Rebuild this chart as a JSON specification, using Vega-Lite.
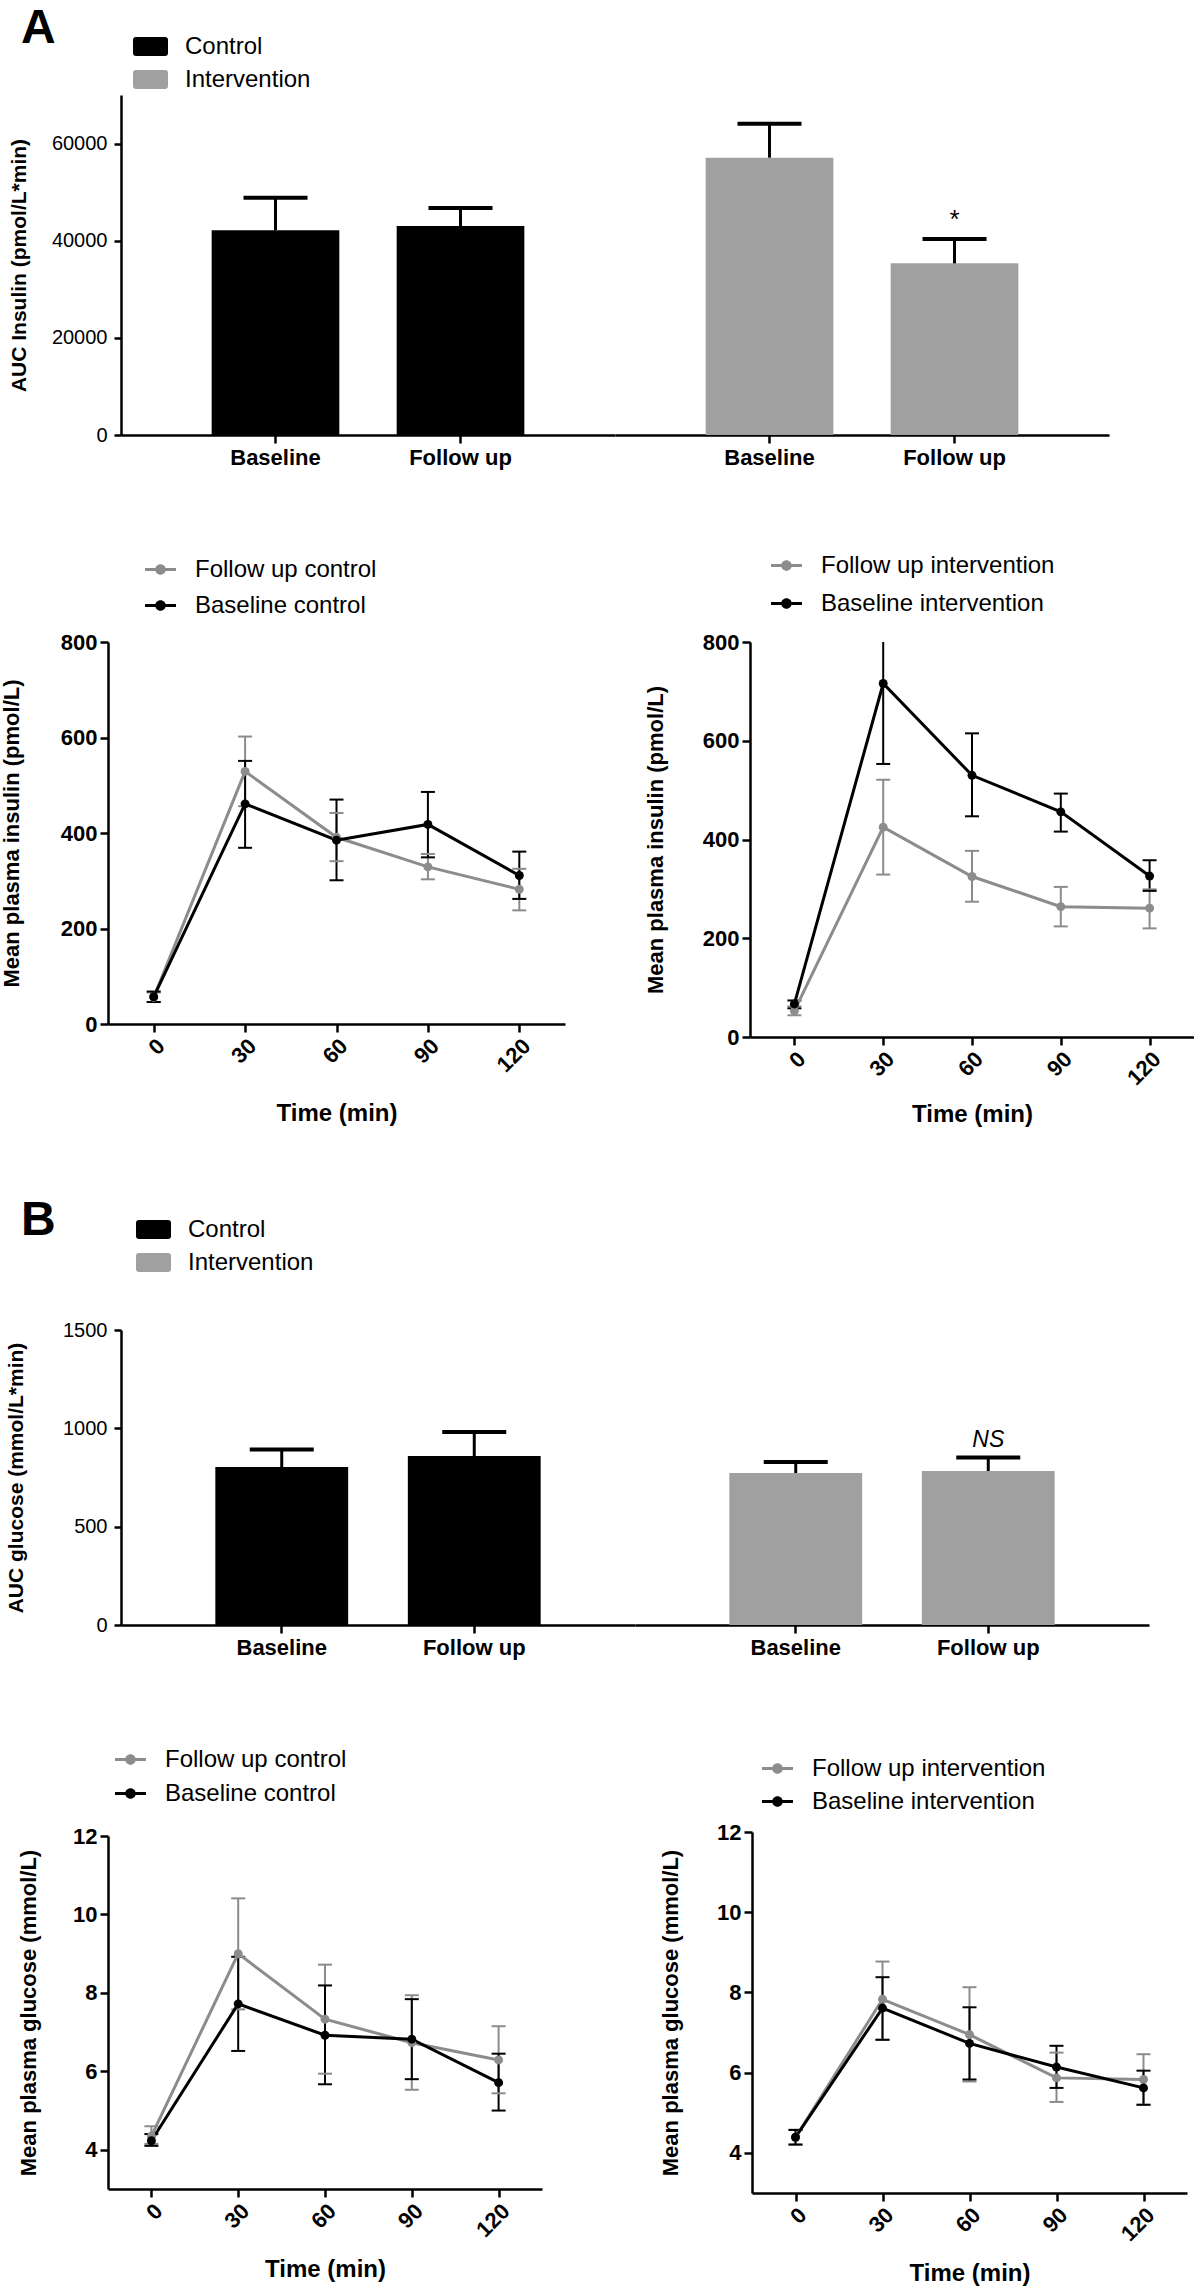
{
  "$schema": "https://vega.github.io/schema/vega-lite/v6.json",
  "padding": {"left": 0, "top": 5, "right": 0, "bottom": 0},
  "background": "white",
  "config": {
    "font": "Liberation Sans",
    "view": {"stroke": null},
    "axis": {"domainColor": "#000000", "domainWidth": 2.5, "tickColor": "#000000", "tickWidth": 2.5, "tickSize": 8, "labelColor": "#000000", "titleColor": "#000000", "grid": false, "labelFont": "Liberation Sans", "titleFont": "Liberation Sans", "labelFontWeight": "bold", "labelFontSize": 22, "titleFontWeight": "bold", "titleFontSize": 22, "labelPadding": 3, "labelOverlap": false, "labelFlush": false},
    "legend": {"labelFont": "Liberation Sans", "labelFontSize": 24, "labelColor": "#000000", "labelLimit": 500, "padding": 0, "symbolStrokeWidth": 0, "symbolOpacity": 1},
    "title": {"font": "Liberation Sans", "fontWeight": "bold", "fontSize": 48, "color": "#000000"}
  },
  "datasets": {
    "aucA": [
      {"group": "Control", "time": "Baseline", "auc": 42140, "hi": 48860, "sig": ""},
      {"group": "Control", "time": "Follow up", "auc": 43030, "hi": 46740, "sig": ""},
      {"group": "Intervention", "time": "Baseline", "auc": 57100, "hi": 64100, "sig": ""},
      {"group": "Intervention", "time": "Follow up", "auc": 35340, "hi": 40350, "sig": "*"}
    ],
    "aucB": [
      {"group": "Control", "time": "Baseline", "auc": 803, "hi": 892, "sig": ""},
      {"group": "Control", "time": "Follow up", "auc": 859, "hi": 981, "sig": ""},
      {"group": "Intervention", "time": "Baseline", "auc": 773, "hi": 829, "sig": ""},
      {"group": "Intervention", "time": "Follow up", "auc": 783, "hi": 852, "sig": "NS"}
    ],
    "insCtrl": [
      {"series": "Follow up control", "t": 0, "mean": 56, "lo": 46, "hi": 66},
      {"series": "Follow up control", "t": 30, "mean": 529, "lo": 456, "hi": 602},
      {"series": "Follow up control", "t": 60, "mean": 391, "lo": 341, "hi": 442},
      {"series": "Follow up control", "t": 90, "mean": 329, "lo": 303, "hi": 356},
      {"series": "Follow up control", "t": 120, "mean": 282, "lo": 238, "hi": 325},
      {"series": "Baseline control", "t": 0, "mean": 57, "lo": 46, "hi": 68},
      {"series": "Baseline control", "t": 30, "mean": 461, "lo": 369, "hi": 551},
      {"series": "Baseline control", "t": 60, "mean": 385, "lo": 301, "hi": 470},
      {"series": "Baseline control", "t": 90, "mean": 418, "lo": 349, "hi": 486},
      {"series": "Baseline control", "t": 120, "mean": 311, "lo": 262, "hi": 361}
    ],
    "insInt": [
      {"series": "Follow up intervention", "t": 0, "mean": 53, "lo": 44, "hi": 62},
      {"series": "Follow up intervention", "t": 30, "mean": 425, "lo": 329, "hi": 521},
      {"series": "Follow up intervention", "t": 60, "mean": 325, "lo": 274, "hi": 377},
      {"series": "Follow up intervention", "t": 90, "mean": 264, "lo": 224, "hi": 304},
      {"series": "Follow up intervention", "t": 120, "mean": 261, "lo": 220, "hi": 299},
      {"series": "Baseline intervention", "t": 0, "mean": 67, "lo": 58, "hi": 74},
      {"series": "Baseline intervention", "t": 30, "mean": 716, "lo": 553, "hi": 879},
      {"series": "Baseline intervention", "t": 60, "mean": 530, "lo": 447, "hi": 615},
      {"series": "Baseline intervention", "t": 90, "mean": 456, "lo": 416, "hi": 493},
      {"series": "Baseline intervention", "t": 120, "mean": 326, "lo": 296, "hi": 358}
    ],
    "gluCtrl": [
      {"series": "Follow up control", "t": 0, "mean": 4.35, "lo": 4.15, "hi": 4.6},
      {"series": "Follow up control", "t": 30, "mean": 9.0, "lo": 7.58, "hi": 10.41},
      {"series": "Follow up control", "t": 60, "mean": 7.33, "lo": 5.94, "hi": 8.72},
      {"series": "Follow up control", "t": 90, "mean": 6.73, "lo": 5.53, "hi": 7.94},
      {"series": "Follow up control", "t": 120, "mean": 6.29, "lo": 5.44, "hi": 7.15},
      {"series": "Baseline control", "t": 0, "mean": 4.23, "lo": 4.1, "hi": 4.4},
      {"series": "Baseline control", "t": 30, "mean": 7.72, "lo": 6.52, "hi": 8.92},
      {"series": "Baseline control", "t": 60, "mean": 6.92, "lo": 5.67, "hi": 8.19},
      {"series": "Baseline control", "t": 90, "mean": 6.82, "lo": 5.8, "hi": 7.84},
      {"series": "Baseline control", "t": 120, "mean": 5.71, "lo": 5.0, "hi": 6.45}
    ],
    "gluInt": [
      {"series": "Follow up intervention", "t": 0, "mean": 4.39, "lo": 4.2, "hi": 4.58},
      {"series": "Follow up intervention", "t": 30, "mean": 7.83, "lo": 6.82, "hi": 8.77},
      {"series": "Follow up intervention", "t": 60, "mean": 6.95, "lo": 5.78, "hi": 8.13},
      {"series": "Follow up intervention", "t": 90, "mean": 5.87, "lo": 5.27, "hi": 6.5},
      {"series": "Follow up intervention", "t": 120, "mean": 5.83, "lo": 5.2, "hi": 6.46},
      {"series": "Baseline intervention", "t": 0, "mean": 4.39, "lo": 4.21, "hi": 4.57},
      {"series": "Baseline intervention", "t": 30, "mean": 7.61, "lo": 6.82, "hi": 8.38},
      {"series": "Baseline intervention", "t": 60, "mean": 6.73, "lo": 5.83, "hi": 7.63},
      {"series": "Baseline intervention", "t": 90, "mean": 6.14, "lo": 5.62, "hi": 6.67},
      {"series": "Baseline intervention", "t": 120, "mean": 5.62, "lo": 5.2, "hi": 6.05}
    ]
  },
  "spacing": 70,
  "resolve": {"scale": {"color": "independent"}, "legend": {"color": "independent"}},
  "vconcat": [
    {
      "spacing": 82,
      "resolve": {"scale": {"color": "independent"}, "legend": {"color": "independent"}},
      "vconcat": [
        {
          "bounds": "flush",
          "spacing": 0,
          "resolve": {"scale": {"color": "independent"}, "legend": {"color": "independent"}},
          "hconcat": [
            {"width": 121, "height": 1, "data": {"values": [{}]}, "mark": {"type": "rect", "color": "#ffffff"}, "view": {"fill": "#ffffff", "stroke": null}},
            {
              "width": 494, "height": 340,
              "title": {"text": "A", "anchor": "start", "frame": "group", "offset": 0, "dx": -100, "dy": 62, "baseline": "alphabetic"},
              "data": {"name": "aucA"},
              "transform": [{"filter": "datum.group === 'Control'"}],
              "encoding": {"x": {"field": "time", "type": "nominal", "sort": ["Baseline", "Follow up"], "scale": {"paddingInner": 0.31, "paddingOuter": 0.49}, "axis": {"title": null, "labelAngle": 0, "labelPadding": 4, "labelFontSize": 22}}},
              "layer": [
                {"mark": {"type": "bar"}, "encoding": {
                  "y": {"field": "auc", "type": "quantitative", "scale": {"domain": [0, 70000], "nice": false}, "title": "AUC Insulin (pmol/L*min)", "axis": {"values": [0, 20000, 40000, 60000], "format": "d", "titleFontSize": 21, "labelFontSize": 20, "labelFontWeight": "normal", "tickSize": 7, "labelPadding": 7, "titlePadding": 22}},
                  "color": {"field": "group", "type": "nominal", "scale": {"domain": ["Control", "Intervention"], "range": ["#000000", "#a0a0a0"]}, "legend": {"orient": "none", "legendX": 12, "legendY": -66, "title": null, "symbolType": "M-0.83,-0.54L0.83,-0.54Q1,-0.54,1,-0.37L1,0.37Q1,0.54,0.83,0.54L-0.83,0.54Q-1,0.54,-1,0.37L-1,-0.37Q-1,-0.54,-0.83,-0.54Z", "symbolSize": 1225, "labelOffset": 17, "rowPadding": 3}}
                }},
                {"mark": {"type": "rule", "strokeWidth": 3, "color": "#000000"}, "encoding": {
                  "y": {"field": "auc", "type": "quantitative", "scale": {"domain": [0, 70000], "nice": false}, "title": "AUC Insulin (pmol/L*min)"},
                  "y2": {"field": "hi"}
                }},
                {"mark": {"type": "tick", "orient": "horizontal", "size": 64, "thickness": 4, "color": "#000000", "opacity": 1}, "encoding": {
                  "y": {"field": "hi", "type": "quantitative", "scale": {"domain": [0, 70000], "nice": false}, "title": "AUC Insulin (pmol/L*min)"}
                }}
              ]
            },
            {
              "width": 494, "height": 340,
              "data": {"name": "aucA"},
              "transform": [{"filter": "datum.group === 'Intervention'"}],
              "encoding": {"x": {"field": "time", "type": "nominal", "sort": ["Baseline", "Follow up"], "scale": {"paddingInner": 0.31, "paddingOuter": 0.49}, "axis": {"title": null, "labelAngle": 0, "labelPadding": 4, "labelFontSize": 22}}},
              "layer": [
                {"mark": {"type": "bar"}, "encoding": {
                  "y": {"field": "auc", "type": "quantitative", "scale": {"domain": [0, 70000], "nice": false}, "axis": null},
                  "color": {"field": "group", "type": "nominal", "scale": {"domain": ["Control", "Intervention"], "range": ["#000000", "#a0a0a0"]}, "legend": null}
                }},
                {"mark": {"type": "rule", "strokeWidth": 3, "color": "#000000"}, "encoding": {
                  "y": {"field": "auc", "type": "quantitative", "scale": {"domain": [0, 70000], "nice": false}, "axis": null},
                  "y2": {"field": "hi"}
                }},
                {"mark": {"type": "tick", "orient": "horizontal", "size": 64, "thickness": 4, "color": "#000000", "opacity": 1}, "encoding": {
                  "y": {"field": "hi", "type": "quantitative", "scale": {"domain": [0, 70000], "nice": false}, "axis": null}
                }},
                {"mark": {"type": "text", "baseline": "alphabetic", "dy": -11, "fontSize": 26, "color": "#000000"}, "encoding": {
                  "y": {"field": "hi", "type": "quantitative", "scale": {"domain": [0, 70000], "nice": false}, "axis": null},
                  "text": {"field": "sig"}
                }}
              ]
            }
          ]
        },
        {
          "bounds": "flush",
          "spacing": 0,
          "resolve": {"scale": {"color": "independent"}, "legend": {"color": "independent"}},
          "hconcat": [
            {"width": 108, "height": 1, "data": {"values": [{}]}, "mark": {"type": "rect", "color": "#ffffff"}, "view": {"fill": "#ffffff", "stroke": null}},
            {
              "width": 457, "height": 382,
              "data": {"name": "insCtrl"},
              "encoding": {"x": {"field": "t", "type": "quantitative", "scale": {"domain": [-15, 135], "nice": false, "zero": false}, "axis": {"values": [0, 30, 60, 90, 120], "labelAngle": -45, "title": "Time (min)", "titleFontSize": 24, "titlePadding": 26}}},
              "layer": [
                {"mark": {"type": "rule", "strokeWidth": 2, "clip": true}, "encoding": {
                  "y": {"field": "lo", "type": "quantitative", "scale": {"domain": [0, 800], "nice": false}, "title": "Mean plasma insulin (pmol/L)", "axis": {"values": [0, 200, 400, 600, 800], "titlePadding": 37}},
                  "y2": {"field": "hi"},
                  "color": {"field": "series", "type": "nominal", "scale": {"domain": ["Follow up control", "Baseline control"], "range": ["#8c8c8c", "#000000"]}, "legend": {"orient": "none", "legendX": 37, "legendY": -88, "title": null, "symbolType": "M-1,-0.1L1,-0.1L1,0.1L-1,0.1Z M0.34,0A0.34,0.34,0,1,1,-0.34,0A0.34,0.34,0,1,1,0.34,0Z", "symbolSize": 961, "labelOffset": 19, "rowPadding": 8}}
                }},
                {"mark": {"type": "tick", "orient": "horizontal", "size": 14, "thickness": 2, "clip": true, "opacity": 1}, "encoding": {
                  "y": {"field": "hi", "type": "quantitative", "scale": {"domain": [0, 800], "nice": false}, "title": "Mean plasma insulin (pmol/L)"},
                  "color": {"field": "series", "type": "nominal", "scale": {"domain": ["Follow up control", "Baseline control"], "range": ["#8c8c8c", "#000000"]}, "legend": {"orient": "none", "legendX": 37, "legendY": -88, "title": null, "symbolType": "M-1,-0.1L1,-0.1L1,0.1L-1,0.1Z M0.34,0A0.34,0.34,0,1,1,-0.34,0A0.34,0.34,0,1,1,0.34,0Z", "symbolSize": 961, "labelOffset": 19, "rowPadding": 8}}
                }},
                {"mark": {"type": "tick", "orient": "horizontal", "size": 14, "thickness": 2, "clip": true, "opacity": 1}, "encoding": {
                  "y": {"field": "lo", "type": "quantitative", "scale": {"domain": [0, 800], "nice": false}, "title": "Mean plasma insulin (pmol/L)"},
                  "color": {"field": "series", "type": "nominal", "scale": {"domain": ["Follow up control", "Baseline control"], "range": ["#8c8c8c", "#000000"]}, "legend": {"orient": "none", "legendX": 37, "legendY": -88, "title": null, "symbolType": "M-1,-0.1L1,-0.1L1,0.1L-1,0.1Z M0.34,0A0.34,0.34,0,1,1,-0.34,0A0.34,0.34,0,1,1,0.34,0Z", "symbolSize": 961, "labelOffset": 19, "rowPadding": 8}}
                }},
                {"mark": {"type": "line", "strokeWidth": 3}, "encoding": {
                  "y": {"field": "mean", "type": "quantitative", "scale": {"domain": [0, 800], "nice": false}, "title": "Mean plasma insulin (pmol/L)"},
                  "color": {"field": "series", "type": "nominal", "scale": {"domain": ["Follow up control", "Baseline control"], "range": ["#8c8c8c", "#000000"]}, "legend": {"orient": "none", "legendX": 37, "legendY": -88, "title": null, "symbolType": "M-1,-0.1L1,-0.1L1,0.1L-1,0.1Z M0.34,0A0.34,0.34,0,1,1,-0.34,0A0.34,0.34,0,1,1,0.34,0Z", "symbolSize": 961, "labelOffset": 19, "rowPadding": 8}}
                }},
                {"mark": {"type": "point", "filled": true, "size": 80, "opacity": 1}, "encoding": {
                  "y": {"field": "mean", "type": "quantitative", "scale": {"domain": [0, 800], "nice": false}, "title": "Mean plasma insulin (pmol/L)"},
                  "color": {"field": "series", "type": "nominal", "scale": {"domain": ["Follow up control", "Baseline control"], "range": ["#8c8c8c", "#000000"]}, "legend": {"orient": "none", "legendX": 37, "legendY": -88, "title": null, "symbolType": "M-1,-0.1L1,-0.1L1,0.1L-1,0.1Z M0.34,0A0.34,0.34,0,1,1,-0.34,0A0.34,0.34,0,1,1,0.34,0Z", "symbolSize": 961, "labelOffset": 19, "rowPadding": 8}}
                }}
              ]
            },
            {"width": 185, "height": 1, "data": {"values": [{}]}, "mark": {"type": "rect", "color": "#ffffff"}, "view": {"fill": "#ffffff", "stroke": null}},
            {
              "width": 444, "height": 395,
              "data": {"name": "insInt"},
              "encoding": {"x": {"field": "t", "type": "quantitative", "scale": {"domain": [-15, 135], "nice": false, "zero": false}, "axis": {"values": [0, 30, 60, 90, 120], "labelAngle": -45, "title": "Time (min)", "titleFontSize": 24, "titlePadding": 14}}},
              "layer": [
                {"mark": {"type": "rule", "strokeWidth": 2, "clip": true}, "encoding": {
                  "y": {"field": "lo", "type": "quantitative", "scale": {"domain": [0, 800], "nice": false}, "title": "Mean plasma insulin (pmol/L)", "axis": {"values": [0, 200, 400, 600, 800], "titlePadding": 35}},
                  "y2": {"field": "hi"},
                  "color": {"field": "series", "type": "nominal", "scale": {"domain": ["Follow up intervention", "Baseline intervention"], "range": ["#8c8c8c", "#000000"]}, "legend": {"orient": "none", "legendX": 21, "legendY": -92, "title": null, "symbolType": "M-1,-0.1L1,-0.1L1,0.1L-1,0.1Z M0.34,0A0.34,0.34,0,1,1,-0.34,0A0.34,0.34,0,1,1,0.34,0Z", "symbolSize": 961, "labelOffset": 19, "rowPadding": 10}}
                }},
                {"mark": {"type": "tick", "orient": "horizontal", "size": 14, "thickness": 2, "clip": true, "opacity": 1}, "encoding": {
                  "y": {"field": "hi", "type": "quantitative", "scale": {"domain": [0, 800], "nice": false}, "title": "Mean plasma insulin (pmol/L)"},
                  "color": {"field": "series", "type": "nominal", "scale": {"domain": ["Follow up intervention", "Baseline intervention"], "range": ["#8c8c8c", "#000000"]}, "legend": {"orient": "none", "legendX": 21, "legendY": -92, "title": null, "symbolType": "M-1,-0.1L1,-0.1L1,0.1L-1,0.1Z M0.34,0A0.34,0.34,0,1,1,-0.34,0A0.34,0.34,0,1,1,0.34,0Z", "symbolSize": 961, "labelOffset": 19, "rowPadding": 10}}
                }},
                {"mark": {"type": "tick", "orient": "horizontal", "size": 14, "thickness": 2, "clip": true, "opacity": 1}, "encoding": {
                  "y": {"field": "lo", "type": "quantitative", "scale": {"domain": [0, 800], "nice": false}, "title": "Mean plasma insulin (pmol/L)"},
                  "color": {"field": "series", "type": "nominal", "scale": {"domain": ["Follow up intervention", "Baseline intervention"], "range": ["#8c8c8c", "#000000"]}, "legend": {"orient": "none", "legendX": 21, "legendY": -92, "title": null, "symbolType": "M-1,-0.1L1,-0.1L1,0.1L-1,0.1Z M0.34,0A0.34,0.34,0,1,1,-0.34,0A0.34,0.34,0,1,1,0.34,0Z", "symbolSize": 961, "labelOffset": 19, "rowPadding": 10}}
                }},
                {"mark": {"type": "line", "strokeWidth": 3}, "encoding": {
                  "y": {"field": "mean", "type": "quantitative", "scale": {"domain": [0, 800], "nice": false}, "title": "Mean plasma insulin (pmol/L)"},
                  "color": {"field": "series", "type": "nominal", "scale": {"domain": ["Follow up intervention", "Baseline intervention"], "range": ["#8c8c8c", "#000000"]}, "legend": {"orient": "none", "legendX": 21, "legendY": -92, "title": null, "symbolType": "M-1,-0.1L1,-0.1L1,0.1L-1,0.1Z M0.34,0A0.34,0.34,0,1,1,-0.34,0A0.34,0.34,0,1,1,0.34,0Z", "symbolSize": 961, "labelOffset": 19, "rowPadding": 10}}
                }},
                {"mark": {"type": "point", "filled": true, "size": 80, "opacity": 1}, "encoding": {
                  "y": {"field": "mean", "type": "quantitative", "scale": {"domain": [0, 800], "nice": false}, "title": "Mean plasma insulin (pmol/L)"},
                  "color": {"field": "series", "type": "nominal", "scale": {"domain": ["Follow up intervention", "Baseline intervention"], "range": ["#8c8c8c", "#000000"]}, "legend": {"orient": "none", "legendX": 21, "legendY": -92, "title": null, "symbolType": "M-1,-0.1L1,-0.1L1,0.1L-1,0.1Z M0.34,0A0.34,0.34,0,1,1,-0.34,0A0.34,0.34,0,1,1,0.34,0Z", "symbolSize": 961, "labelOffset": 19, "rowPadding": 10}}
                }}
              ]
            }
          ]
        }
      ]
    },
    {
      "spacing": 86,
      "resolve": {"scale": {"color": "independent"}, "legend": {"color": "independent"}},
      "vconcat": [
        {
          "bounds": "flush",
          "spacing": 0,
          "resolve": {"scale": {"color": "independent"}, "legend": {"color": "independent"}},
          "hconcat": [
            {"width": 121, "height": 1, "data": {"values": [{}]}, "mark": {"type": "rect", "color": "#ffffff"}, "view": {"fill": "#ffffff", "stroke": null}},
            {
              "width": 514, "height": 295,
              "title": {"text": "B", "anchor": "start", "frame": "group", "offset": 0, "dx": -100, "dy": 71, "baseline": "alphabetic"},
              "data": {"name": "aucB"},
              "transform": [{"filter": "datum.group === 'Control'"}],
              "encoding": {"x": {"field": "time", "type": "nominal", "sort": ["Baseline", "Follow up"], "scale": {"paddingInner": 0.31, "paddingOuter": 0.49}, "axis": {"title": null, "labelAngle": 0, "labelPadding": 4, "labelFontSize": 22}}},
              "layer": [
                {"mark": {"type": "bar"}, "encoding": {
                  "y": {"field": "auc", "type": "quantitative", "scale": {"domain": [0, 1500], "nice": false}, "title": "AUC glucose (mmol/L*min)", "axis": {"values": [0, 500, 1000, 1500], "format": "d", "titleFontSize": 21, "labelFontSize": 20, "labelFontWeight": "normal", "tickSize": 7, "labelPadding": 7, "titlePadding": 36}},
                  "color": {"field": "group", "type": "nominal", "scale": {"domain": ["Control", "Intervention"], "range": ["#000000", "#a0a0a0"]}, "legend": {"orient": "none", "legendX": 15, "legendY": -118, "title": null, "symbolType": "M-0.83,-0.54L0.83,-0.54Q1,-0.54,1,-0.37L1,0.37Q1,0.54,0.83,0.54L-0.83,0.54Q-1,0.54,-1,0.37L-1,-0.37Q-1,-0.54,-0.83,-0.54Z", "symbolSize": 1225, "labelOffset": 17, "rowPadding": 3}}
                }},
                {"mark": {"type": "rule", "strokeWidth": 3, "color": "#000000"}, "encoding": {
                  "y": {"field": "auc", "type": "quantitative", "scale": {"domain": [0, 1500], "nice": false}, "title": "AUC glucose (mmol/L*min)"},
                  "y2": {"field": "hi"}
                }},
                {"mark": {"type": "tick", "orient": "horizontal", "size": 64, "thickness": 4, "color": "#000000", "opacity": 1}, "encoding": {
                  "y": {"field": "hi", "type": "quantitative", "scale": {"domain": [0, 1500], "nice": false}, "title": "AUC glucose (mmol/L*min)"}
                }}
              ]
            },
            {
              "width": 514, "height": 295,
              "data": {"name": "aucB"},
              "transform": [{"filter": "datum.group === 'Intervention'"}],
              "encoding": {"x": {"field": "time", "type": "nominal", "sort": ["Baseline", "Follow up"], "scale": {"paddingInner": 0.31, "paddingOuter": 0.49}, "axis": {"title": null, "labelAngle": 0, "labelPadding": 4, "labelFontSize": 22}}},
              "layer": [
                {"mark": {"type": "bar"}, "encoding": {
                  "y": {"field": "auc", "type": "quantitative", "scale": {"domain": [0, 1500], "nice": false}, "axis": null},
                  "color": {"field": "group", "type": "nominal", "scale": {"domain": ["Control", "Intervention"], "range": ["#000000", "#a0a0a0"]}, "legend": null}
                }},
                {"mark": {"type": "rule", "strokeWidth": 3, "color": "#000000"}, "encoding": {
                  "y": {"field": "auc", "type": "quantitative", "scale": {"domain": [0, 1500], "nice": false}, "axis": null},
                  "y2": {"field": "hi"}
                }},
                {"mark": {"type": "tick", "orient": "horizontal", "size": 64, "thickness": 4, "color": "#000000", "opacity": 1}, "encoding": {
                  "y": {"field": "hi", "type": "quantitative", "scale": {"domain": [0, 1500], "nice": false}, "axis": null}
                }},
                {"mark": {"type": "text", "baseline": "alphabetic", "dy": -10, "fontSize": 23, "fontStyle": "italic", "color": "#000000"}, "encoding": {
                  "y": {"field": "hi", "type": "quantitative", "scale": {"domain": [0, 1500], "nice": false}, "axis": null},
                  "text": {"field": "sig"}
                }}
              ]
            }
          ]
        },
        {
          "bounds": "flush",
          "spacing": 0,
          "center": true,
          "resolve": {"scale": {"color": "independent"}, "legend": {"color": "independent"}},
          "hconcat": [
            {"width": 108, "height": 1, "data": {"values": [{}]}, "mark": {"type": "rect", "color": "#ffffff"}, "view": {"fill": "#ffffff", "stroke": null}},
            {
              "width": 434, "height": 353,
              "data": {"name": "gluCtrl"},
              "encoding": {"x": {"field": "t", "type": "quantitative", "scale": {"domain": [-15, 135], "nice": false, "zero": false}, "axis": {"values": [0, 30, 60, 90, 120], "labelAngle": -45, "title": "Time (min)", "titleFontSize": 24, "titlePadding": 17}}},
              "layer": [
                {"mark": {"type": "rule", "strokeWidth": 2, "clip": true}, "encoding": {
                  "y": {"field": "lo", "type": "quantitative", "scale": {"domain": [3, 12], "nice": false, "zero": false}, "title": "Mean plasma glucose (mmol/L)", "axis": {"values": [4, 6, 8, 10, 12], "titlePadding": 32}},
                  "y2": {"field": "hi"},
                  "color": {"field": "series", "type": "nominal", "scale": {"domain": ["Follow up control", "Baseline control"], "range": ["#8c8c8c", "#000000"]}, "legend": {"orient": "none", "legendX": 7, "legendY": -92, "title": null, "symbolType": "M-1,-0.1L1,-0.1L1,0.1L-1,0.1Z M0.34,0A0.34,0.34,0,1,1,-0.34,0A0.34,0.34,0,1,1,0.34,0Z", "symbolSize": 961, "labelOffset": 19, "rowPadding": 6}}
                }},
                {"mark": {"type": "tick", "orient": "horizontal", "size": 14, "thickness": 2, "clip": true, "opacity": 1}, "encoding": {
                  "y": {"field": "hi", "type": "quantitative", "scale": {"domain": [3, 12], "nice": false, "zero": false}, "title": "Mean plasma glucose (mmol/L)"},
                  "color": {"field": "series", "type": "nominal", "scale": {"domain": ["Follow up control", "Baseline control"], "range": ["#8c8c8c", "#000000"]}, "legend": {"orient": "none", "legendX": 7, "legendY": -92, "title": null, "symbolType": "M-1,-0.1L1,-0.1L1,0.1L-1,0.1Z M0.34,0A0.34,0.34,0,1,1,-0.34,0A0.34,0.34,0,1,1,0.34,0Z", "symbolSize": 961, "labelOffset": 19, "rowPadding": 6}}
                }},
                {"mark": {"type": "tick", "orient": "horizontal", "size": 14, "thickness": 2, "clip": true, "opacity": 1}, "encoding": {
                  "y": {"field": "lo", "type": "quantitative", "scale": {"domain": [3, 12], "nice": false, "zero": false}, "title": "Mean plasma glucose (mmol/L)"},
                  "color": {"field": "series", "type": "nominal", "scale": {"domain": ["Follow up control", "Baseline control"], "range": ["#8c8c8c", "#000000"]}, "legend": {"orient": "none", "legendX": 7, "legendY": -92, "title": null, "symbolType": "M-1,-0.1L1,-0.1L1,0.1L-1,0.1Z M0.34,0A0.34,0.34,0,1,1,-0.34,0A0.34,0.34,0,1,1,0.34,0Z", "symbolSize": 961, "labelOffset": 19, "rowPadding": 6}}
                }},
                {"mark": {"type": "line", "strokeWidth": 3}, "encoding": {
                  "y": {"field": "mean", "type": "quantitative", "scale": {"domain": [3, 12], "nice": false, "zero": false}, "title": "Mean plasma glucose (mmol/L)"},
                  "color": {"field": "series", "type": "nominal", "scale": {"domain": ["Follow up control", "Baseline control"], "range": ["#8c8c8c", "#000000"]}, "legend": {"orient": "none", "legendX": 7, "legendY": -92, "title": null, "symbolType": "M-1,-0.1L1,-0.1L1,0.1L-1,0.1Z M0.34,0A0.34,0.34,0,1,1,-0.34,0A0.34,0.34,0,1,1,0.34,0Z", "symbolSize": 961, "labelOffset": 19, "rowPadding": 6}}
                }},
                {"mark": {"type": "point", "filled": true, "size": 80, "opacity": 1}, "encoding": {
                  "y": {"field": "mean", "type": "quantitative", "scale": {"domain": [3, 12], "nice": false, "zero": false}, "title": "Mean plasma glucose (mmol/L)"},
                  "color": {"field": "series", "type": "nominal", "scale": {"domain": ["Follow up control", "Baseline control"], "range": ["#8c8c8c", "#000000"]}, "legend": {"orient": "none", "legendX": 7, "legendY": -92, "title": null, "symbolType": "M-1,-0.1L1,-0.1L1,0.1L-1,0.1Z M0.34,0A0.34,0.34,0,1,1,-0.34,0A0.34,0.34,0,1,1,0.34,0Z", "symbolSize": 961, "labelOffset": 19, "rowPadding": 6}}
                }}
              ]
            },
            {"width": 210, "height": 1, "data": {"values": [{}]}, "mark": {"type": "rect", "color": "#ffffff"}, "view": {"fill": "#ffffff", "stroke": null}},
            {
              "width": 435, "height": 361,
              "data": {"name": "gluInt"},
              "encoding": {"x": {"field": "t", "type": "quantitative", "scale": {"domain": [-15, 135], "nice": false, "zero": false}, "axis": {"values": [0, 30, 60, 90, 120], "labelAngle": -45, "title": "Time (min)", "titleFontSize": 24, "titlePadding": 17}}},
              "layer": [
                {"mark": {"type": "rule", "strokeWidth": 2, "clip": true}, "encoding": {
                  "y": {"field": "lo", "type": "quantitative", "scale": {"domain": [3, 12], "nice": false, "zero": false}, "title": "Mean plasma glucose (mmol/L)", "axis": {"values": [4, 6, 8, 10, 12], "titlePadding": 34}},
                  "y2": {"field": "hi"},
                  "color": {"field": "series", "type": "nominal", "scale": {"domain": ["Follow up intervention", "Baseline intervention"], "range": ["#8c8c8c", "#000000"]}, "legend": {"orient": "none", "legendX": 10, "legendY": -79, "title": null, "symbolType": "M-1,-0.1L1,-0.1L1,0.1L-1,0.1Z M0.34,0A0.34,0.34,0,1,1,-0.34,0A0.34,0.34,0,1,1,0.34,0Z", "symbolSize": 961, "labelOffset": 19, "rowPadding": 5}}
                }},
                {"mark": {"type": "tick", "orient": "horizontal", "size": 14, "thickness": 2, "clip": true, "opacity": 1}, "encoding": {
                  "y": {"field": "hi", "type": "quantitative", "scale": {"domain": [3, 12], "nice": false, "zero": false}, "title": "Mean plasma glucose (mmol/L)"},
                  "color": {"field": "series", "type": "nominal", "scale": {"domain": ["Follow up intervention", "Baseline intervention"], "range": ["#8c8c8c", "#000000"]}, "legend": {"orient": "none", "legendX": 10, "legendY": -79, "title": null, "symbolType": "M-1,-0.1L1,-0.1L1,0.1L-1,0.1Z M0.34,0A0.34,0.34,0,1,1,-0.34,0A0.34,0.34,0,1,1,0.34,0Z", "symbolSize": 961, "labelOffset": 19, "rowPadding": 5}}
                }},
                {"mark": {"type": "tick", "orient": "horizontal", "size": 14, "thickness": 2, "clip": true, "opacity": 1}, "encoding": {
                  "y": {"field": "lo", "type": "quantitative", "scale": {"domain": [3, 12], "nice": false, "zero": false}, "title": "Mean plasma glucose (mmol/L)"},
                  "color": {"field": "series", "type": "nominal", "scale": {"domain": ["Follow up intervention", "Baseline intervention"], "range": ["#8c8c8c", "#000000"]}, "legend": {"orient": "none", "legendX": 10, "legendY": -79, "title": null, "symbolType": "M-1,-0.1L1,-0.1L1,0.1L-1,0.1Z M0.34,0A0.34,0.34,0,1,1,-0.34,0A0.34,0.34,0,1,1,0.34,0Z", "symbolSize": 961, "labelOffset": 19, "rowPadding": 5}}
                }},
                {"mark": {"type": "line", "strokeWidth": 3}, "encoding": {
                  "y": {"field": "mean", "type": "quantitative", "scale": {"domain": [3, 12], "nice": false, "zero": false}, "title": "Mean plasma glucose (mmol/L)"},
                  "color": {"field": "series", "type": "nominal", "scale": {"domain": ["Follow up intervention", "Baseline intervention"], "range": ["#8c8c8c", "#000000"]}, "legend": {"orient": "none", "legendX": 10, "legendY": -79, "title": null, "symbolType": "M-1,-0.1L1,-0.1L1,0.1L-1,0.1Z M0.34,0A0.34,0.34,0,1,1,-0.34,0A0.34,0.34,0,1,1,0.34,0Z", "symbolSize": 961, "labelOffset": 19, "rowPadding": 5}}
                }},
                {"mark": {"type": "point", "filled": true, "size": 80, "opacity": 1}, "encoding": {
                  "y": {"field": "mean", "type": "quantitative", "scale": {"domain": [3, 12], "nice": false, "zero": false}, "title": "Mean plasma glucose (mmol/L)"},
                  "color": {"field": "series", "type": "nominal", "scale": {"domain": ["Follow up intervention", "Baseline intervention"], "range": ["#8c8c8c", "#000000"]}, "legend": {"orient": "none", "legendX": 10, "legendY": -79, "title": null, "symbolType": "M-1,-0.1L1,-0.1L1,0.1L-1,0.1Z M0.34,0A0.34,0.34,0,1,1,-0.34,0A0.34,0.34,0,1,1,0.34,0Z", "symbolSize": 961, "labelOffset": 19, "rowPadding": 5}}
                }}
              ]
            }
          ]
        }
      ]
    }
  ]
}
